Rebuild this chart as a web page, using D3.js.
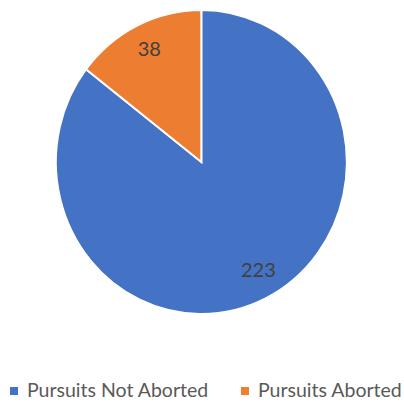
<!DOCTYPE html>
<html>
<head>
<meta charset="utf-8">
<script src="https://cdn.jsdelivr.net/npm/d3@7"></script>
<style>
  body { margin: 0; background: #fff; }
  text { font-family: Lato, "Open Sans", sans-serif; }
</style>
</head>
<body>
<svg width="404" height="402"></svg>
<script>
const categories = ["Pursuits Not Aborted", "Pursuits Aborted"];
const values = [223, 38];
const colors = ["#4472C4", "#ED7D31"];

let svg = d3.select("svg");
let cx = 201.3, cy = 162, rx = 145.5, ry = 152;

let data = categories.map((c, i) => ({ name: c, value: values[i], color: colors[i] }));

let pie = d3.pie().sort(null).value(d => d.value);
let arcs = pie(data);

// draw on unit circle then stretch, the source image is slightly taller than wide
let arc = d3.arc().innerRadius(0).outerRadius(1);

let g = svg.append("g")
  .attr("transform", `translate(${cx},${cy}) scale(${rx},${ry})`);

g.selectAll("path")
  .data(arcs)
  .enter()
  .append("path")
  .attr("d", arc)
  .attr("fill", d => d.data.color)
  .attr("stroke", "#fff")
  .attr("stroke-width", 2)
  .attr("vector-effect", "non-scaling-stroke");

let labelArc = d3.arc().innerRadius(0.81).outerRadius(0.81);

svg.selectAll("text.label")
  .data(arcs)
  .enter()
  .append("text")
  .attr("class", "label")
  .attr("x", d => cx + labelArc.centroid(d)[0] * rx + (d.index == 0 ? 5 : 0))
  .attr("y", d => cy + labelArc.centroid(d)[1] * ry)
  .attr("dy", "0.22em")
  .attr("text-anchor", "middle")
  .attr("fill", "#404040")
  .style("font-size", "20px")
  .text(d => d.data.value);

// legend
let legendX = [10, 241];
let legend = svg.selectAll("g.legend")
  .data(data)
  .enter()
  .append("g")
  .attr("class", "legend")
  .attr("transform", (d, i) => `translate(${legendX[i]},391)`);

legend.append("rect")
  .attr("x", 0)
  .attr("y", -4)
  .attr("width", 8)
  .attr("height", 8)
  .attr("fill", d => d.color);

legend.append("text")
  .attr("x", 17)
  .attr("y", 6)
  .attr("fill", "#595959")
  .style("font-size", "19.5px")
  .text(d => d.name);
</script>
</body>
</html>
